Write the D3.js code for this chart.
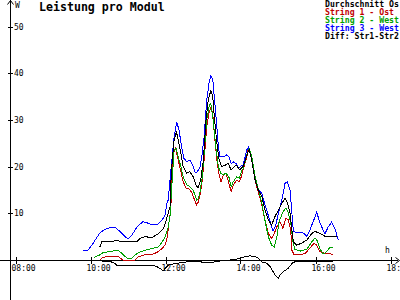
<!DOCTYPE html>
<meta charset="utf-8">
<html>
  <head>
    <title>Leistung pro Modul</title>
    <script src="https://d3js.org/d3.v7.min.js"></script>
    <style>
      body{margin:0;background:#fff;}
      text{font-family:"DejaVu Sans Mono",monospace;}
    </style>
  </head>
  <body>
    <div id="chart"></div>
  <script>
    var width=400,
        height=300;

    // [hour, W]
    var average=[[10.25,2.8],[10.30,3.9],[10.52,3.9],[10.70,4.2],[10.83,3.9],[11.23,3.9],[11.32,4.6],[11.45,5.0],
      [11.63,4.8],[11.81,5.6],[11.94,6.7],[12.01,8.2],[12.07,10.0],[12.12,11.4],[12.13,15.0],[12.18,21.4],[12.23,25.7],
      [12.29,27.5],[12.34,25.7],[12.41,22.8],[12.47,20.0],[12.57,18.6],[12.65,18.9],[12.74,17.8],[12.81,16.1],[12.87,15.4],
      [12.94,17.1],[13.01,21.4],[13.08,30.0],[13.14,34.3],[13.21,36.3],[13.26,35.0],[13.30,30.7],[13.37,25.0],[13.43,21.4],
      [13.50,20.0],[13.59,20.3],[13.67,20.7],[13.75,19.3],[13.83,20.0],[13.90,20.3],[13.97,19.3],[14.07,20.0],[14.17,22.5],
      [14.23,23.6],[14.30,21.4],[14.39,17.1],[14.47,15.0],[14.57,13.6],[14.65,10.7],[14.74,8.6],[14.83,7.5],[14.92,9.3],
      [15.01,10.7],[15.10,12.1],[15.19,13.2],[15.26,12.1],[15.32,10.0],[15.37,6.4],[15.41,3.9],[15.50,3.2],[15.63,3.6],
      [15.77,4.3],[15.90,5.7],[15.99,6.1],[16.12,5.7],[16.25,5.1],[16.43,5.0],[16.57,5.1]];
    var string1=[[10.25,0],[10.34,0.6],[10.61,0.8],[10.74,0.7],[10.87,0],[11.19,0],[11.27,0.7],[11.45,1.1],[11.63,1.1],
      [11.81,1.8],[11.91,2.5],[11.99,3.2],[12.05,5.0],[12.09,7.9],[12.14,10.7],[12.17,17.1],[12.21,22.8],[12.27,23.9],
      [12.34,21.4],[12.41,18.9],[12.47,16.8],[12.55,15.4],[12.63,15.2],[12.70,14.5],[12.79,12.5],[12.83,11.8],[12.88,12.5],
      [12.92,13.9],[12.97,16.4],[13.03,21.4],[13.10,28.5],[13.16,31.4],[13.21,32.7],[13.26,31.4],[13.30,27.1],[13.37,21.4],
      [13.43,18.2],[13.48,16.8],[13.54,18.2],[13.61,18.6],[13.67,17.1],[13.75,14.6],[13.81,16.1],[13.90,17.1],[13.97,16.8],
      [14.03,18.0],[14.07,19.3],[14.17,22.1],[14.21,23.9],[14.30,21.8],[14.39,17.1],[14.47,14.6],[14.57,11.8],[14.65,8.6],
      [14.74,5.7],[14.83,4.6],[14.90,5.7],[14.97,7.1],[15.05,8.2],[15.13,6.8],[15.21,8.9],[15.27,8.6],[15.34,6.4],
      [15.37,2.1],[15.43,1.1],[15.59,1.1],[15.72,1.4],[15.85,2.5],[15.96,3.6],[16.03,3.2],[16.12,1.8],[16.25,1.4],
      [16.39,1.4],[16.47,1.1]];
    var string2=[[10.10,0.6],[10.25,1.1],[10.34,1.6],[10.52,1.8],[10.65,2.0],[10.74,2.0],[10.83,1.5],[10.97,0.4],[11.10,0.4],
      [11.19,1.1],[11.32,1.7],[11.50,2.2],[11.67,2.5],[11.81,2.8],[11.90,3.7],[11.99,5.0],[12.06,6.6],[12.12,9.4],
      [12.17,16.1],[12.23,23.6],[12.28,23.9],[12.34,22.1],[12.41,20.0],[12.47,17.8],[12.57,16.1],[12.65,15.7],[12.73,15.0],
      [12.79,13.9],[12.83,12.8],[12.88,13.2],[12.92,14.6],[12.97,17.1],[13.01,20.7],[13.10,30.0],[13.17,33.2],[13.21,33.5],
      [13.27,30.0],[13.34,24.3],[13.41,20.0],[13.47,18.6],[13.54,18.2],[13.61,18.6],[13.69,17.8],[13.75,15.7],[13.81,16.8],
      [13.90,17.8],[13.97,17.5],[14.03,19.1],[14.07,19.6],[14.17,22.5],[14.23,23.9],[14.30,22.1],[14.39,17.8],[14.47,15.4],
      [14.57,12.1],[14.65,8.6],[14.74,5.0],[14.83,3.2],[14.90,2.8],[14.97,5.0],[15.03,8.2],[15.13,10.3],[15.21,11.1],
      [15.27,10.3],[15.34,7.9],[15.39,4.3],[15.45,2.3],[15.59,1.9],[15.77,2.3],[15.90,3.9],[15.99,4.7],[16.05,4.1],
      [16.12,2.3],[16.21,1.3],[16.30,1.8],[16.39,2.8],[16.47,2.6]];
    var string3=[[9.80,2.1],[9.93,2.1],[10.07,3.6],[10.25,5.8],[10.39,6.6],[10.52,6.9],[10.65,7.0],[10.79,6.1],[10.92,5.0],
      [11.00,4.5],[11.11,5.4],[11.24,7.1],[11.40,8.2],[11.53,7.9],[11.67,7.5],[11.80,7.7],[11.91,8.6],[11.99,9.6],
      [12.04,12.2],[12.07,12.8],[12.17,21.4],[12.23,26.4],[12.30,29.6],[12.36,27.8],[12.43,24.3],[12.49,21.8],[12.57,21.0],
      [12.65,21.4],[12.74,20.1],[12.79,18.8],[12.84,18.8],[12.92,19.9],[12.97,22.3],[13.03,26.4],[13.10,34.3],[13.16,37.8],
      [13.21,39.4],[13.26,38.8],[13.30,35.0],[13.37,28.5],[13.41,24.3],[13.45,22.1],[13.54,22.1],[13.63,22.5],[13.69,22.1],
      [13.75,20.7],[13.81,21.0],[13.88,20.7],[13.95,19.6],[14.01,20.1],[14.07,20.3],[14.17,23.6],[14.21,24.2],[14.30,21.4],
      [14.39,17.1],[14.47,15.0],[14.57,14.3],[14.65,11.8],[14.74,9.6],[14.83,7.1],[14.87,6.2],[14.95,7.7],[15.01,10.1],
      [15.10,12.8],[15.19,16.5],[15.25,16.7],[15.32,15.0],[15.37,10.1],[15.41,6.2],[15.50,5.8],[15.67,5.8],[15.77,5.1],
      [15.85,6.4],[15.99,9.3],[16.03,10.3],[16.12,7.9],[16.25,5.6],[16.34,7.1],[16.43,8.1],[16.52,6.6],[16.61,4.3]];
    var diff=[[10.25,0],[10.33,-0.3],[10.52,-0.3],[10.65,-0.7],[10.71,-1.2],[11.50,-1.2],[11.63,-1.1],[11.77,-1.4],
      [11.85,-1.8],[11.94,-2.3],[11.99,-1.8],[12.07,-1.1],[12.30,-0.7],[12.57,-0.4],[12.92,-0.4],[13.19,-0.6],[13.32,-0.4],
      [13.45,-0.2],[13.85,0.1],[14.11,0.7],[14.25,0.9],[14.39,0.7],[14.47,0.4],[14.57,-0.4],[14.70,-0.7],[14.79,-1.4],
      [14.92,-3.2],[15.01,-3.9],[15.05,-3.2],[15.14,-2.5],[15.27,-1.8],[15.34,-1.1],[15.39,-0.6],[15.45,-0.4],[15.59,-0.3],
      [15.99,-0.3],[16.47,-0.3]];

    var xTicks=[8,10,12,14,16,18];
    var xTickLabels=["08:00","10:00","12:00","14:00","16:00","18:00"];
    var yTicks=[10,20,30,40,50];
    var legendNames=["Durchschnitt Os","String 1 - Ost","String 2 - West","String 3 - West","Diff: Str1-Str2"];
    var legendColors=["#000000","#c00000","#00a000","#0000ff","#000000"];

    var x=d3.scaleLinear().domain([8,18]).range([15.5,390.5]);
    var y=d3.scaleLinear().domain([0,50]).range([260,26.5]);

    var svg=d3.select("#chart").append("svg")
      .attr("width",width)
      .attr("height",height)
      .style("display","block");

    //axes
    var axisG=svg.append("g").attr("stroke","#000").attr("shape-rendering","crispEdges");
    axisG.append("line").attr("x1",10.5).attr("x2",10.5).attr("y1",0).attr("y2",height);
    axisG.append("line").attr("x1",0).attr("x2",398).attr("y1",y(0)+0.5).attr("y2",y(0)+0.5);
    svg.append("path").attr("d","M7.5,4.5L10.5,0.5L13.5,4.5").attr("fill","none").attr("stroke","#000");
    svg.append("path").attr("d","M395.5,"+(y(0)-2.5)+"L399.5,"+(y(0)+0.5)+"L395.5,"+(y(0)+3.5))
      .attr("fill","none").attr("stroke","#000");

    axisG.selectAll(".ytick").data(yTicks).enter().append("line")
      .attr("x1",8).attr("x2",13)
      .attr("y1",function(d){return Math.round(y(d))+0.5})
      .attr("y2",function(d){return Math.round(y(d))+0.5});
    axisG.selectAll(".xtick").data(xTicks).enter().append("line")
      .attr("x1",function(d){return Math.round(x(d))+0.5})
      .attr("x2",function(d){return Math.round(x(d))+0.5})
      .attr("y1",y(0)-3).attr("y2",y(0)+4);

    svg.selectAll(".ylabel").data(yTicks).enter().append("text")
      .text(function(d){return d})
      .attr("x",14).attr("y",function(d){return y(d)+3})
      .style("font-size","8px");
    svg.selectAll(".xlabel").data(xTicks).enter().append("text")
      .text(function(d,i){return xTickLabels[i]})
      .attr("x",function(d){return x(d)-4}).attr("y",y(0)+10.5)
      .style("font-size","8px");
    svg.append("text").text("W").attr("x",15).attr("y",7.5).style("font-size","8px");
    svg.append("text").text("h").attr("x",385).attr("y",253).style("font-size","8px");

    //title
    svg.append("text").text("Leistung pro Modul")
      .attr("x",39).attr("y",10.5)
      .style("font-size","11.6px").style("font-weight","bold");

    //legend
    svg.selectAll(".legend").data(legendNames).enter().append("text")
      .text(function(d){return d})
      .attr("x",325).attr("y",function(d,i){return 7+i*8})
      .style("fill",function(d,i){return legendColors[i]})
      .style("font-size","8.2px").style("font-weight","bold");

    //lines
    var line=d3.line()
      .x(function(d){return x(d[0])})
      .y(function(d){return y(d[1])});
    var series=[[string1,"#c00000"],[string2,"#00a000"],[string3,"#0000ff"],[average,"#000000"],[diff,"#000000"]];
    svg.selectAll(".series").data(series).enter().append("path")
      .attr("d",function(d){return line(d[0])})
      .attr("fill","none")
      .attr("stroke",function(d){return d[1]})
      .attr("stroke-width",1)
      .attr("shape-rendering","crispEdges");
  </script>
  </body>
</html>
